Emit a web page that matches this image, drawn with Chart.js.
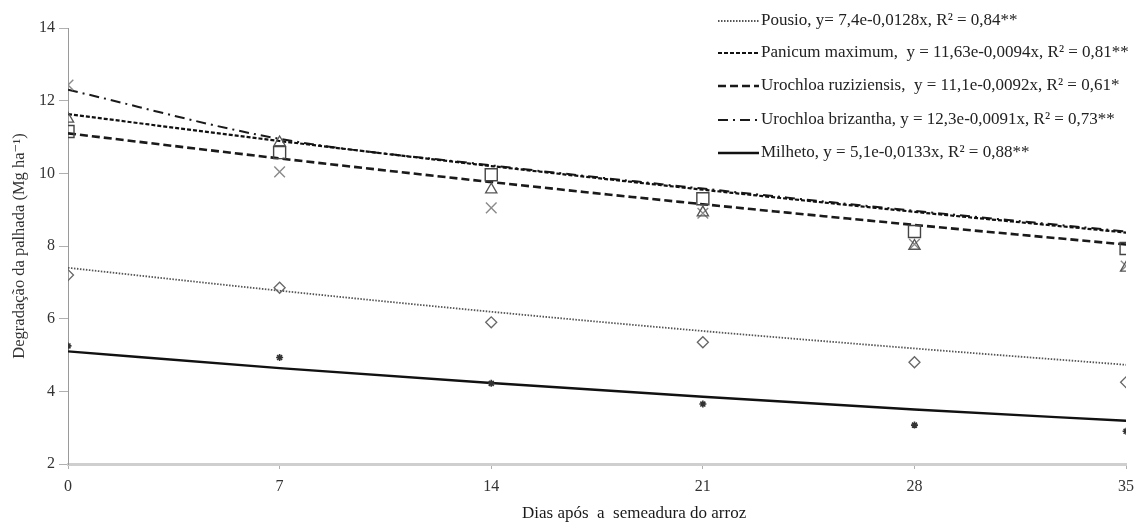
<!DOCTYPE html>
<html>
<head>
<meta charset="utf-8">
<script src="https://cdn.jsdelivr.net/npm/chart.js@4.4.1/dist/chart.umd.min.js"></script>
<style>
  html, body { margin: 0; padding: 0; background: #ffffff; }
  canvas { display: block; }
</style>
</head>
<body>
<canvas id="chart" width="1136" height="524"></canvas>
<script>
// Sampling days (x axis) and axis ticks
const days = [0, 7, 14, 21, 28, 35];
const xTickValues = [0, 7, 14, 21, 28, 35];
const yTickValues = [2, 4, 6, 8, 10, 12, 14];
const xAxisTitle = 'Dias após  a  semeadura do arroz';
const yAxisTitle = 'Degradação da palhada (Mg ha\u207b\u00b9)';

// Treatments
const seriesNames = ['Pousio', 'Panicum maximum', 'Urochloa ruziziensis', 'Urochloa brizantha', 'Milheto'];
const legendLabels = [
  'Pousio, y= 7,4e-0,0128x, R\u00b2 = 0,84**',
  'Panicum maximum,  y = 11,63e-0,0094x, R\u00b2 = 0,81**',
  'Urochloa ruziziensis,  y = 11,1e-0,0092x, R\u00b2 = 0,61*',
  'Urochloa brizantha, y = 12,3e-0,0091x, R\u00b2 = 0,73**',
  'Milheto, y = 5,1e-0,0133x, R\u00b2 = 0,88**'
];

// Observed straw mass (Mg ha-1) per sampling day
const pousioObs     = [7.20, 6.85, 5.90, 5.35, 4.80, 4.25];
const panicumObs    = [11.50, 10.85, 9.55, 8.92, 8.00, 7.40];
const ruziziensisObs = [11.15, 10.57, 9.96, 9.30, 8.40, 7.93];
const brizanthaObs  = [12.43, 10.04, 9.05, 8.90, 8.05, 7.45];
const milhetoObs    = [5.25, 4.93, 4.22, 3.65, 3.07, 2.90];

// Fitted trend curves per sampling day
const pousioFit     = [7.40, 6.77, 6.19, 5.66, 5.18, 4.73];
const panicumFit    = [11.63, 10.89, 10.20, 9.55, 8.94, 8.37];
const ruziziensisFit = [11.10, 10.41, 9.76, 9.15, 8.58, 8.04];
const brizanthaFit  = [12.30, 10.95, 10.22, 9.58, 8.97, 8.40];
const milhetoFit    = [5.10, 4.64, 4.23, 3.85, 3.50, 3.19];

const SERIF = '"Liberation Serif", "DejaVu Serif", serif';

const toPoints = (vals) => days.map((d, i) => ({ x: d, y: vals[i] }));

// Line look of each trend curve (also used for the legend samples)
const lineStyles = [
  { color: '#555555', width: 1.8, dash: [1.5, 1.5] },
  { color: '#111111', width: 2.2, dash: [4, 2] },
  { color: '#1a1a1a', width: 2.6, dash: [8, 4] },
  { color: '#1a1a1a', width: 2.0, dash: [10, 5, 2, 5] },
  { color: '#111111', width: 2.4, dash: [] }
];
const markerStyles = [
  { style: 'rectRot', radius: 5.5, color: '#666666', width: 1.3 },
  { style: 'triangle', radius: 6.5, color: '#555555', width: 1.3 },
  { style: 'rect', radius: 8.5, color: '#444444', width: 1.4 },
  { style: 'crossRot', radius: 7.5, color: '#8a8a8a', width: 1.4 },
  { style: 'star', radius: 3.5, color: '#333333', width: 1.6 }
];

const obsSets = [pousioObs, panicumObs, ruziziensisObs, brizanthaObs, milhetoObs];
const fitSets = [pousioFit, panicumFit, ruziziensisFit, brizanthaFit, milhetoFit];

const datasets = [];
fitSets.forEach((vals, i) => {
  const s = lineStyles[i];
  datasets.push({
    label: seriesNames[i] + ' (ajuste)',
    data: toPoints(vals),
    showLine: true,
    borderColor: s.color,
    borderWidth: s.width,
    borderDash: s.dash,
    pointRadius: 0,
    cubicInterpolationMode: 'monotone',
    fill: false,
    order: 2
  });
});
obsSets.forEach((vals, i) => {
  const m = markerStyles[i];
  datasets.push({
    label: seriesNames[i],
    data: toPoints(vals),
    showLine: false,
    pointStyle: m.style,
    pointRadius: m.radius,
    pointBorderColor: m.color,
    pointBackgroundColor: 'rgba(255,255,255,0)',
    pointBorderWidth: m.width,
    order: 1
  });
});

// Equation legend in the upper right corner and the x axis caption
const equationLegend = {
  id: 'equationLegend',
  afterDraw(chart) {
    const ctx = chart.ctx;
    const rowY = [21, 53, 86, 120, 153];
    const x0 = 718, x1 = 759, tx = 761;
    ctx.save();
    legendLabels.forEach((label, i) => {
      const s = lineStyles[i];
      ctx.beginPath();
      ctx.strokeStyle = s.color;
      ctx.lineWidth = s.width;
      ctx.setLineDash(s.dash);
      ctx.moveTo(x0, rowY[i]);
      ctx.lineTo(x1, rowY[i]);
      ctx.stroke();
      ctx.setLineDash([]);
      ctx.fillStyle = '#222222';
      ctx.font = '17px ' + SERIF;
      ctx.textBaseline = 'middle';
      ctx.textAlign = 'left';
      ctx.fillText(label, tx, rowY[i]);
    });
    // x axis caption, set slightly right of the plot centre
    ctx.fillStyle = '#1a1a1a';
    ctx.font = '17px ' + SERIF;
    ctx.textAlign = 'center';
    ctx.textBaseline = 'middle';
    ctx.fillText(xAxisTitle, chart.chartArea.left + (chart.chartArea.right - chart.chartArea.left) * 0.535, 514);
    ctx.restore();
  }
};

new Chart(document.getElementById('chart'), {
  type: 'scatter',
  data: { datasets },
  plugins: [equationLegend],
  options: {
    responsive: false,
    devicePixelRatio: 1,
    animation: false,
    layout: { padding: { top: 28, right: 9, left: 0, bottom: 0 } },
    plugins: {
      legend: { display: false },
      tooltip: { enabled: false }
    },
    scales: {
      x: {
        type: 'linear',
        min: 0,
        max: 35,
        afterBuildTicks: (scale) => { scale.ticks = xTickValues.map(v => ({ value: v })); },
        afterFit: (scale) => { scale.height = 60; scale.paddingRight = 0; },
        border: { display: true, color: '#cfcfcf', width: 3 },
        grid: { display: true, drawOnChartArea: false, drawTicks: true, tickLength: 5, color: '#b0b0b0', lineWidth: 1 },
        ticks: {
          color: '#333333',
          font: { family: SERIF, size: 16 },
          padding: 8,
          maxRotation: 0,
          autoSkip: false
        },
        title: { display: false }
      },
      y: {
        type: 'linear',
        min: 2,
        max: 14,
        afterBuildTicks: (scale) => { scale.ticks = yTickValues.map(v => ({ value: v })); },
        afterFit: (scale) => { scale.width = 68; },
        border: { display: true, color: '#9a9a9a', width: 1 },
        grid: { display: true, drawOnChartArea: false, drawTicks: true, tickLength: 9, color: '#b0b0b0', lineWidth: 1 },
        ticks: {
          color: '#333333',
          font: { family: SERIF, size: 16 },
          padding: 4
        },
        title: {
          display: true,
          text: yAxisTitle,
          color: '#333333',
          font: { family: SERIF, size: 16.5 },
          padding: { top: 10, bottom: 0 }
        }
      }
    }
  }
});
</script>
</body>
</html>
